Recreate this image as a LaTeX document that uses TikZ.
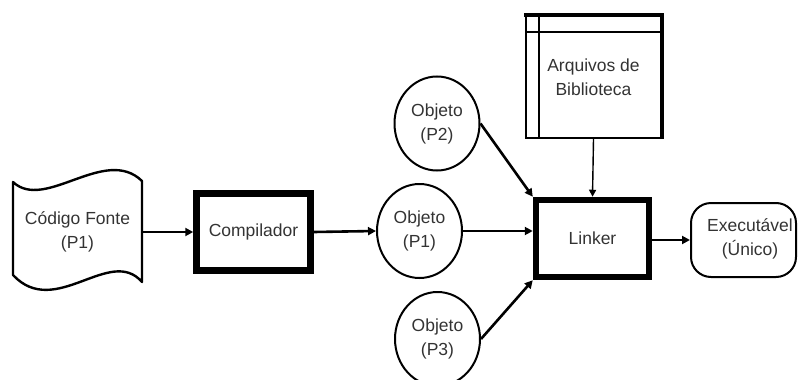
\documentclass[tikz,border=0pt]{standalone}
\usepackage{fontspec}
\setmainfont{Liberation Sans}
\usetikzlibrary{shapes.geometric,arrows.meta}

\begin{document}
\begin{tikzpicture}[x=1pt,y=-1pt,
  lbl/.style={font=\fontsize{17.5}{24}\selectfont, text=black!80, align=center},
  procbox/.style={draw, line width=6.5pt, minimum width=114pt, minimum height=77pt, inner sep=0pt, lbl},
  objeto/.style={draw, ellipse, line width=2pt, minimum width=85pt, minimum height=94pt, inner sep=0pt, lbl},
  flow/.style={line width=2.6pt, -{Triangle[length=8pt,width=8pt]}},
  thinflow/.style={line width=1.4pt, -{Triangle[length=7pt,width=7pt]}}
]
\clip (0,0) rectangle (798,380);
\useasboundingbox (0,0) rectangle (798,380);

% punched-tape source document
\draw[line width=2.4pt, line join=round]
  (13,182) .. controls (45,212) and (105,145) .. (142,181)
  -- (142,282) .. controls (110,245) and (55,320) .. (13,275) -- cycle;
\node[lbl, minimum width=129pt, minimum height=90pt, inner sep=0pt] (code) at (77.5,232) {Código Fonte\\(P1)};

% compiler
\node[procbox] (comp) at (253.5,232) {Compilador};

% object files
\node[objeto] (p1) at (419.5,231) {Objeto\\(P1)};
\node[objeto] (p2) at (437,123.5) {Objeto\\(P2)};
\node[objeto] (p3) at (437.5,339) {Objeto\\(P3)};

% linker
\node[procbox, minimum width=113pt, minimum height=77pt] (link) at (592.5,238.5) {Linker};

% library files
\node[draw, line width=2pt, minimum width=135pt, minimum height=122pt, inner sep=0pt, lbl] (lib) at (593.5,77) {Arquivos de\\Biblioteca};
\draw[line width=2pt] (lib.north west |- 0,32) -- (lib.north east |- 0,32);
\draw[line width=2pt] (539,0 |- lib.north) -- (539,0 |- lib.south);
\draw[line width=3.5pt] ([xshift=-1pt]lib.north west) -- (lib.north east) -- (lib.south east);

% executable
\node[draw, line width=2pt, rounded corners=20pt, minimum width=105pt, minimum height=74pt, inner sep=0pt] (exe) at (743.5,240) {};
\node[lbl] (exetxt) at (750,239) {Executável\\(Único)};

% connectors
\draw[flow] (code.east) -- (comp.west);
\draw[flow] (comp.east) -- (p1.west);
\draw[flow] (p1.east) -- (p1.east -| link.west);
\draw[flow] (p2.east) -- (link.north west);
\draw[flow] (p3.east) -- (link.south west);
\draw[thinflow] (lib.south) -- (link.north);
\draw[flow] (link.east |- exe.west) -- (exe.west);
\end{tikzpicture}
\end{document}
